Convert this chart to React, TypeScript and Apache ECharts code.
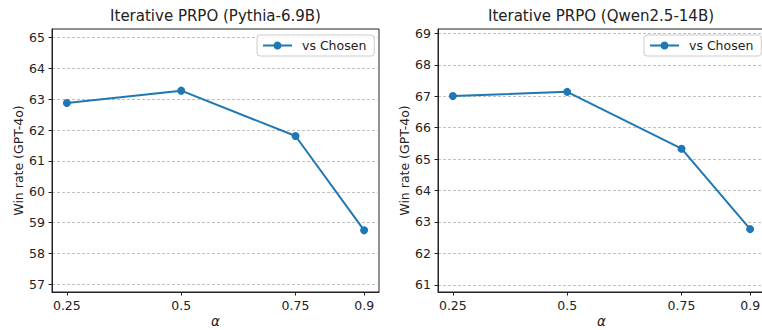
import React, { useEffect, useRef } from "react";
import * as echarts from "echarts";

const alphas = [0.25, 0.5, 0.75, 0.9];
const xTickValues = [0.25, 0.5, 0.75, 0.9];
const pythiaWin = [62.88, 63.28, 61.81, 58.75];
const qwenWin = [67.01, 67.14, 65.33, 62.77];
const pythiaYTicks = [57, 58, 59, 60, 61, 62, 63, 64, 65];
const qwenYTicks = [61, 62, 63, 64, 65, 66, 67, 68, 69];
const titles = ["Iterative PRPO (Pythia-6.9B)", "Iterative PRPO (Qwen2.5-14B)"];
const seriesName = "vs Chosen";
const yName = "Win rate (GPT-4o)";
const xName = "α";

const FONT = "DejaVu Sans";
const BLUE = "#1f77b4";
const DARK = "#222222";

export default function App() {
  const ref = useRef<HTMLDivElement>(null);
  useEffect(() => {
    if (!ref.current) return;
    const chart = echarts.init(ref.current, null, { renderer: "svg" });
    const xmin0 = Math.min(...alphas);
    const xmax0 = Math.max(...alphas);
    const xpad = (xmax0 - xmin0) * 0.05;
    const grids = [
      { left: 52, right: 383, top: 29, bottom: 38 },
      { left: 438, right: -3, top: 29, bottom: 38 },
    ];
    const datasets = [pythiaWin, qwenWin];
    const yTicks = [pythiaYTicks, qwenYTicks];
    const titleCenters = [215.5, 601];
    const legendLefts = [257, 644];

    const option: any = {
      animation: false,
      backgroundColor: "#ffffff",
      textStyle: { fontFamily: FONT },
      title: titles.map((t, i) => ({
        text: t,
        left: titleCenters[i],
        top: 8,
        textAlign: "center",
        padding: 0,
        textStyle: { fontFamily: FONT, fontSize: 15, fontWeight: "normal", color: DARK },
      })),
      legend: [0, 1].map((i) => ({
        data: [seriesName],
        left: legendLefts[i],
        top: 35,
        orient: "vertical",
        itemWidth: 29,
        itemHeight: 10,
        padding: [4, 8, 4, 5],
        borderColor: "#cccccc",
        borderWidth: 1,
        borderRadius: 3,
        backgroundColor: "rgba(255,255,255,0.8)",
        selectedMode: false,
        textStyle: { fontFamily: FONT, fontSize: 12.5, color: DARK, padding: [0, 0, 0, 5] },
      })),
      grid: grids.map((g) => ({
        ...g,
        show: true,
        borderColor: DARK,
        borderWidth: 1,
        backgroundColor: "transparent",
        containLabel: false,
        outerBoundsMode: "none",
      })),
      xAxis: [0, 1].map((i) => ({
        type: "value",
        gridIndex: i,
        min: xmin0 - xpad,
        max: xmax0 + xpad,
        name: xName,
        nameLocation: "middle",
        nameGap: 22,
        nameMoveOverlap: false,
        nameTextStyle: { fontFamily: FONT, fontSize: 13.5, lineHeight: 13, fontStyle: "italic", color: DARK },
        axisLine: { show: true, lineStyle: { color: DARK, width: 1 } },
        axisTick: { show: true, length: 3.5, lineStyle: { color: DARK, width: 1 }, customValues: xTickValues },
        axisLabel: {
          margin: 7,
          fontFamily: FONT,
          fontSize: 12.5,
          color: DARK,
          customValues: xTickValues,
          formatter: (v: number) => String(v),
        },
        splitLine: { show: false },
      })),
      yAxis: [0, 1].map((i) => {
        const d = datasets[i];
        return {
          type: "value",
          gridIndex: i,
          min: Math.min(...d) - 2,
          max: Math.max(...d) + 2,
          name: yName,
          nameLocation: "middle",
          nameGap: 26,
          nameTextStyle: { fontFamily: FONT, fontSize: 12.5, color: DARK },
          axisLine: { show: true, lineStyle: { color: DARK, width: 1 } },
          axisTick: { show: true, length: 3.5, lineStyle: { color: DARK, width: 1 }, customValues: yTicks[i] },
          axisLabel: {
            margin: 7,
            fontFamily: FONT,
            fontSize: 12.5,
            color: DARK,
            customValues: yTicks[i],
            formatter: (v: number) => String(v),
          },
          splitLine: { show: true, lineStyle: { color: "#b0b0b0", width: 0.8, type: [3, 2] } },
        };
      }),
      series: [0, 1].map((i) => ({
        name: seriesName,
        type: "line",
        xAxisIndex: i,
        yAxisIndex: i,
        data: alphas.map((a, k) => [a, datasets[i][k]]),
        symbol: "circle",
        symbolSize: 8,
        itemStyle: { color: BLUE },
        lineStyle: { color: BLUE, width: 2 },
        z: 3,
      })),
    };
    chart.setOption(option);
    return () => chart.dispose();
  }, []);
  return (
    <div
      ref={ref}
      style={{ position: "fixed", left: 0, top: 0, width: 762, height: 330 }}
    />
  );
}
